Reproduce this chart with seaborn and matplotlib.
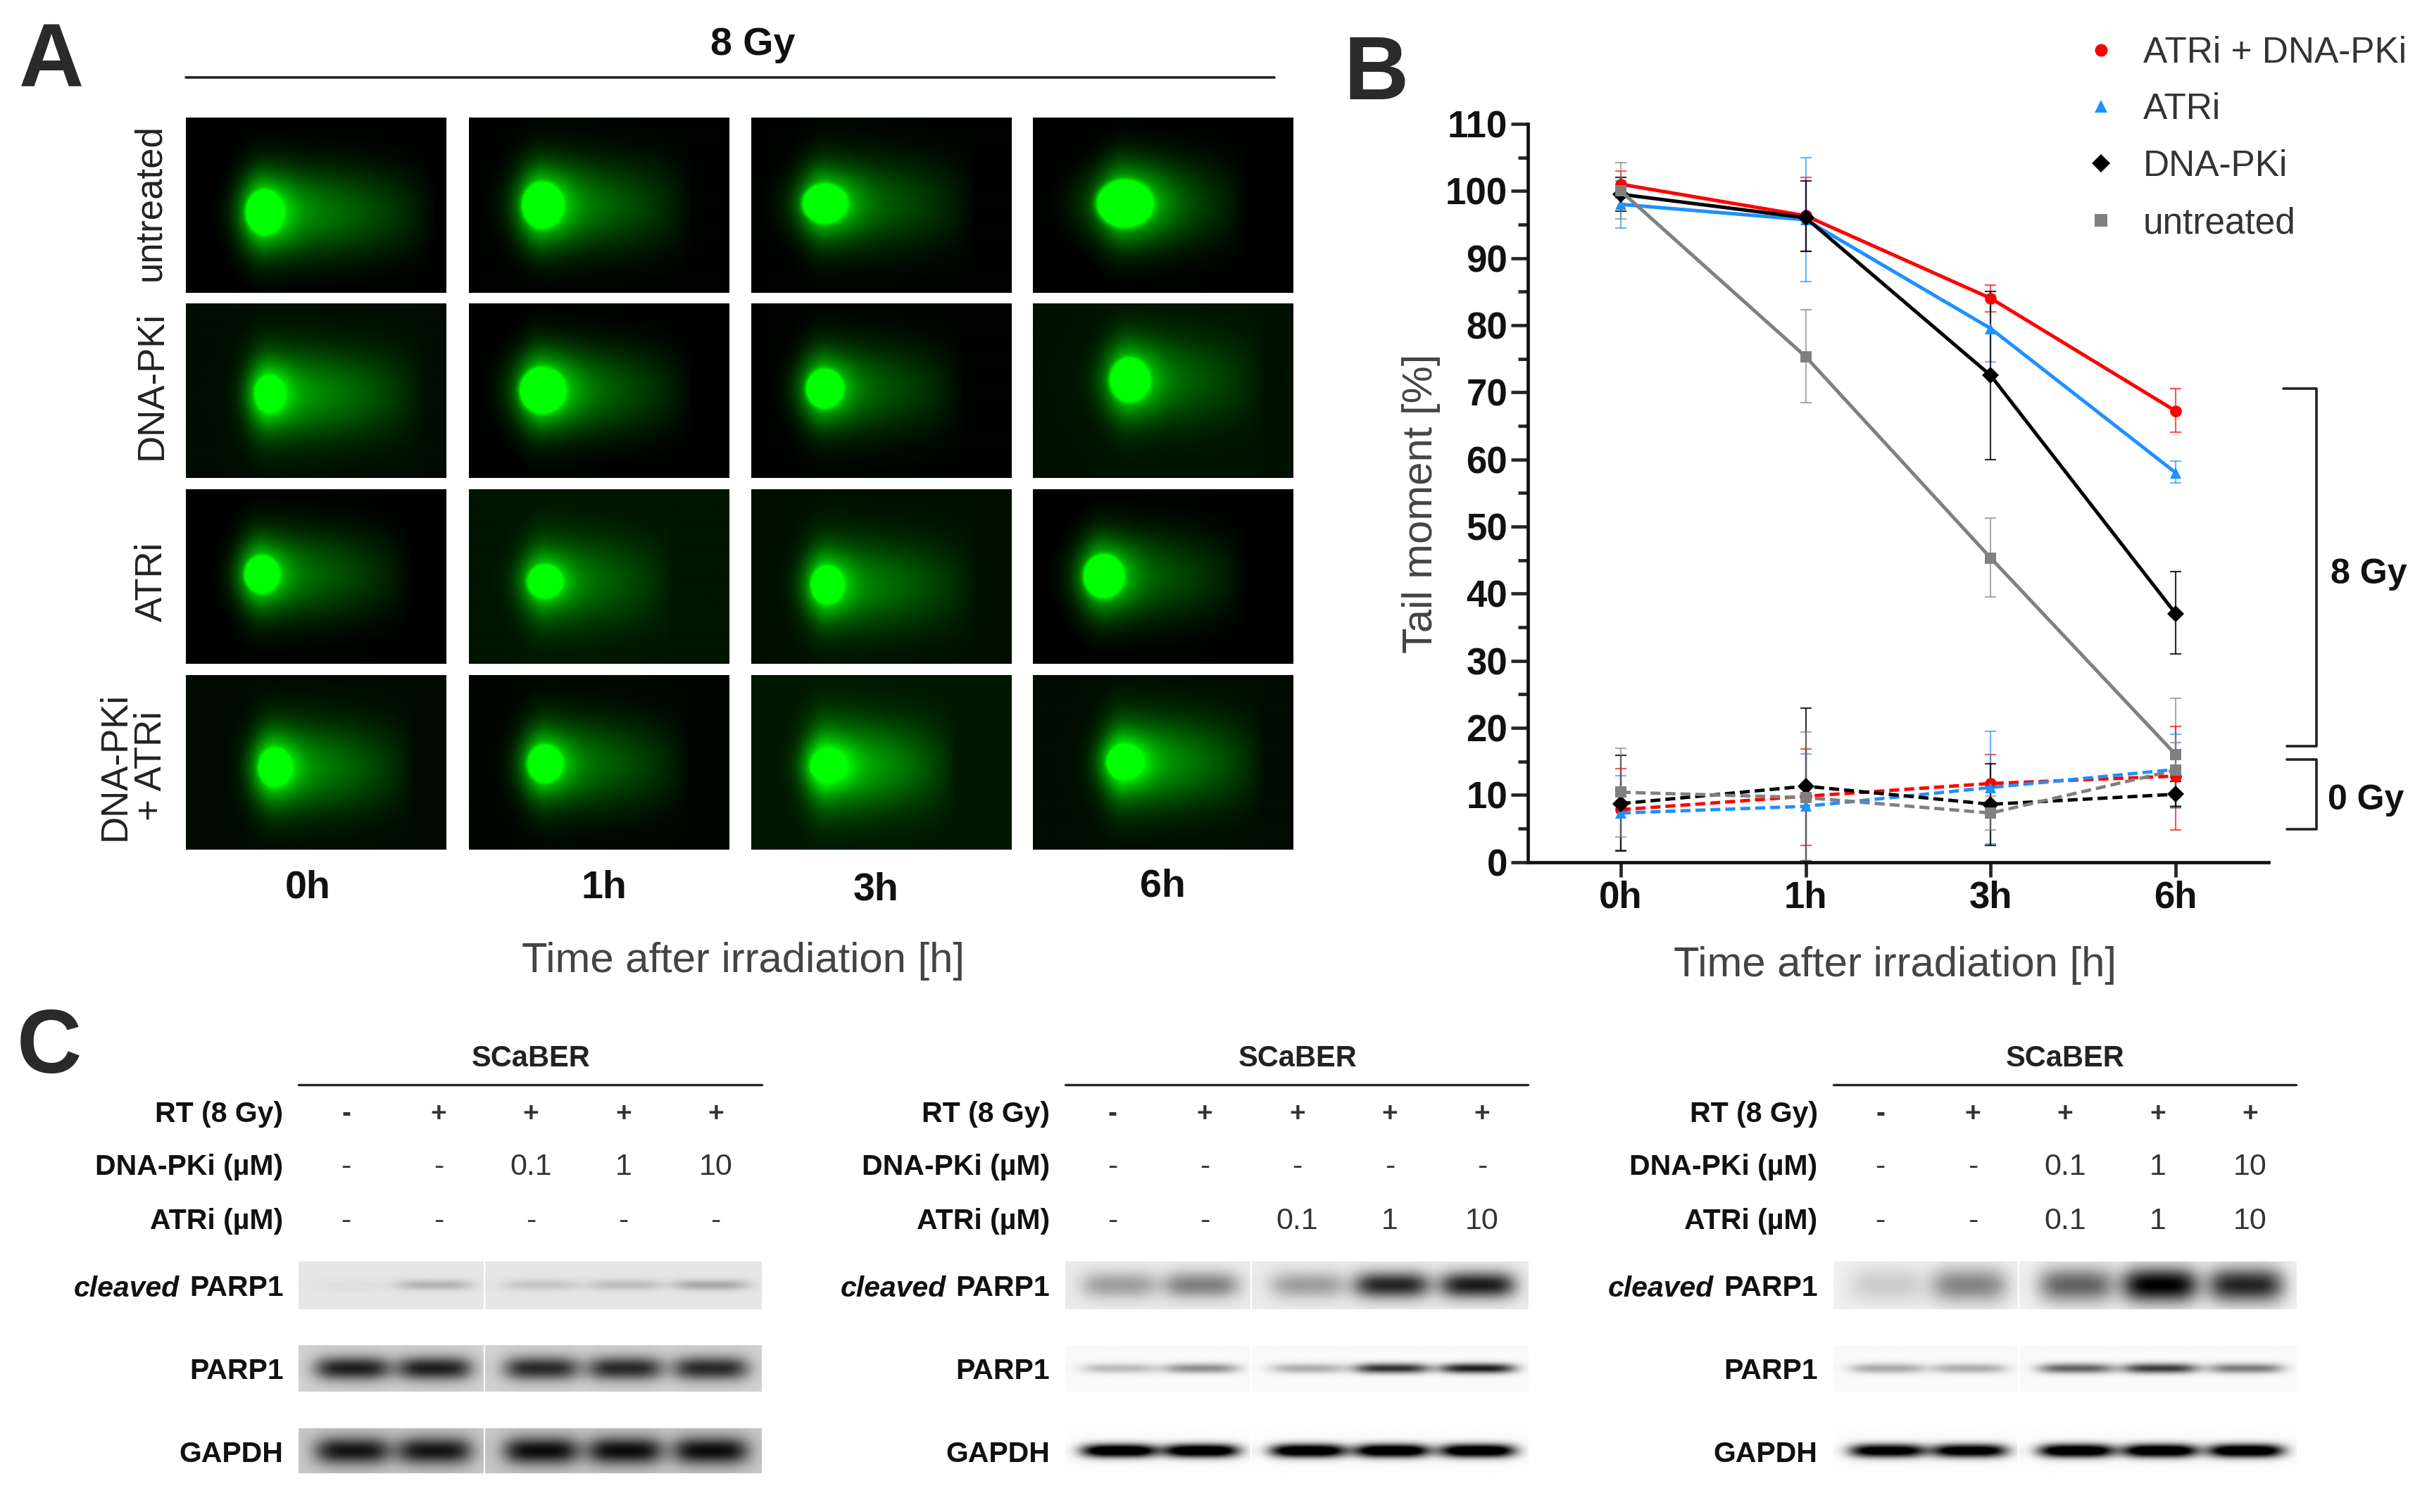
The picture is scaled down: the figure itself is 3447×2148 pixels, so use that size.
import numpy as np
import pandas as pd
import matplotlib
matplotlib.use('Agg')
import matplotlib.pyplot as plt
from matplotlib.colors import LinearSegmentedColormap
from matplotlib.lines import Line2D
import seaborn as sns

# Panel B values
times = ['0h', '1h', '3h', '6h']
groups = ['ATRi + DNA-PKi', 'ATRi', 'DNA-PKi', 'untreated']
colors = ['#ff0000', '#1e90ff', '#000000', '#808080']
marks = ['o', '^', 'D', 's']

gy8_values = [[101, 96.3, 84, 67.2], [98, 95.7, 79.5, 58], [99.5, 96, 72.5, 37], [100, 75.3, 45.3, 16]]
gy8_low = [[99, 91, 82, 64], [94.5, 86.5, 74.5, 56.5], [97, 91, 60, 31], [95.8, 68.5, 39.5, 8]]
gy8_high = [[103, 102, 86, 70.5], [101.5, 105, 84.5, 59.7], [102, 101.5, 85, 43.3], [104.2, 82.3, 51.3, 24.4]]

gy0_values = [[7.8, 9.8, 11.7, 12.8], [7.3, 8.3, 11.1, 13.8], [8.7, 11.3, 8.6, 10.1], [10.4, 9.6, 7.3, 13.7]]
gy0_low = [[1.7, 2.5, 7.4, 4.8], [1.7, 0.2, 2.7, 8.4], [1.6, 0.2, 2.5, 8.2], [3.7, 0.2, 4.8, 9.6]]
gy0_high = [[13.9, 16.8, 16, 20.2], [12.9, 16.1, 19.5, 19], [15.9, 22.9, 14.6, 12], [17, 19.4, 9.8, 17.8]]

# Panel A comets, one row per treatment, one column per time
row_labels = ['untreated', 'DNA-PKi', 'ATRi', 'DNA-PKi\n+ ATRi']
head_x = [[.30, .28, .28, .35], [.32, .28, .28, .37], [.29, .29, .29, .27], [.34, .29, .29, .35]]
head_y = [[.54, .50, .49, .49], [.52, .50, .49, .44], [.49, .53, .55, .50], [.53, .51, .52, .50]]
head_rx = [[.058, .064, .07, .09], [.045, .072, .058, .062], [.054, .054, .05, .064], [.05, .054, .05, .054]]
head_ry = [[.10, .105, .09, .11], [.08, .105, .09, .10], [.085, .075, .085, .10], [.085, .085, .065, .075]]
tail_len = [[.66, .58, .58, .48], [.60, .58, .54, .52], [.58, .50, .58, .56], [.54, .56, .50, .54]]
tail_amp = [[.66, .60, .52, .50], [.66, .58, .50, .48], [.56, .50, .56, .50], [.64, .56, .76, .70]]
back_amp = [[.0, .01, .01, .0], [.05, .0, .01, .07], [.0, .08, .06, .0], [.04, .02, .09, .05]]

# Panel C blots, darkness of each lane
rt_row = ['-', '+', '+', '+', '+']
dna_rows = [['-', '-', '0.1', '1', '10'], ['-', '-', '-', '-', '-'], ['-', '-', '0.1', '1', '10']]
atr_rows = [['-', '-', '-', '-', '-'], ['-', '-', '0.1', '1', '10'], ['-', '-', '0.1', '1', '10']]
lane_pos = [.116, .293, .525, .706, .891]

cleaved_bg = [.90, .92, .94]
parp_bg = [.82, .98, .98]
gapdh_bg = [.78, .99, .99]
cleaved_bands = [[.03, .20, .13, .16, .24], [.30, .42, .30, .78, .82], [.14, .42, .55, .95, .80]]
parp_bands = [[.70, .70, .66, .66, .66], [.25, .42, .30, .80, .88], [.32, .30, .60, .75, .50]]
gapdh_bands = [[.70, .70, .74, .74, .74], [1.3, 1.3, 1.3, 1.3, 1.3], [1.2, 1.2, 1.3, 1.3, 1.3]]
cleaved_thick = [.22, .55, .72]
parp_thick = [.52, .22, .22]
gapdh_thick = [.62, .30, .30]

sns.set_theme(style='ticks')
plt.rcParams['font.family'] = ['Liberation Sans', 'DejaVu Sans']

W, H = 1568.0, 977.0
fig = plt.figure(figsize=(34.48, 21.48), dpi=100)


def add_box(x0, y0, x1, y1):
    # box given in the coordinates of the small preview
    return fig.add_axes([x0 / W, 1 - y1 / H, (x1 - x0) / W, (y1 - y0) / H])


# page wide layer for text and lines
page = fig.add_axes([0, 0, 1, 1], zorder=5)
page.set_xlim(0, W)
page.set_ylim(H, 0)
page.axis('off')
page.patch.set_alpha(0)

dark = '#2a2a2a'
for letter, lx, ly in [('A', 33, 41), ('B', 889, 49), ('C', 32, 678)]:
    page.text(lx, ly, letter, fontsize=92, fontweight='bold', color=dark, ha='center', va='center')

# Panel A
green = LinearSegmentedColormap.from_list('comet', ['#000000', '#00ff00'])
cell_x = [120, 303, 485, 667]
cell_y = [76, 196, 316, 436]
yy, xx = np.mgrid[0:1:125j, 0:1:185j]

for r in range(4):
    for c in range(4):
        ax = add_box(cell_x[c], cell_y[r], cell_x[c] + 168, cell_y[r] + 113)
        hx, hy = head_x[r][c], head_y[r][c]
        left = np.where(xx < hx, np.exp(-((xx - hx) / .085) ** 2), 1.0)
        right = np.clip((hx + tail_len[r][c] - xx) / tail_len[r][c], 0, 1) ** 0.8
        tail = tail_amp[r][c] * left * right * np.exp(-((yy - hy) / .25) ** 2)
        dist = ((xx - hx) / head_rx[r][c]) ** 2 + ((yy - hy) / head_ry[r][c]) ** 2
        glow = .5 * np.exp(-dist / 3.2)
        head = 3 * np.exp(-dist ** 2)
        img = np.clip(back_amp[r][c] + tail + glow + head, 0, 1)
        ax.imshow(img, cmap=green, vmin=0, vmax=1, aspect='auto', interpolation='bilinear')
        ax.axis('off')

page.plot([120, 823], [50, 50], color='#222222', lw=2.6)
page.text(486, 29, '8 Gy', fontsize=40, fontweight='bold', color='#111111', ha='center', va='center')
for label, ly, lx in zip(row_labels, [131, 249, 376, 495], [97, 98, 98, 86]):
    page.text(lx, ly, label, fontsize=38, color='#222222', rotation=90, ha='center', va='center',
              multialignment='center', linespacing=1.05)
for label, lx, ly in zip(times, [199, 390, 566, 751], [574, 574, 575, 573]):
    page.text(lx, ly, label, fontsize=40, fontweight='bold', color='#111111', ha='center', va='center')
page.text(480, 621, 'Time after irradiation [h]', fontsize=43, color='#444444', ha='center', va='center')

# Panel B
ax = add_box(987, 80, 1465, 557)
rows_8 = []
rows_0 = []
for g in range(4):
    for t in range(4):
        rows_8.append({'time': times[t], 'group': groups[g], 'value': gy8_values[g][t]})
        rows_0.append({'time': times[t], 'group': groups[g], 'value': gy0_values[g][t]})
df_8 = pd.DataFrame(rows_8)
df_0 = pd.DataFrame(rows_0)

palette = dict(zip(groups, colors))
markers = dict(zip(groups, marks))
for low, high, values in [(gy8_low, gy8_high, gy8_values), (gy0_low, gy0_high, gy0_values)]:
    for g in range(4):
        yerr = [np.array(values[g]) - np.array(low[g]), np.array(high[g]) - np.array(values[g])]
        ax.errorbar(range(4), values[g], yerr=yerr, fmt='none', ecolor=colors[g], elinewidth=1.6,
                    capsize=6, capthick=1.6, alpha=0.65 if g != 2 else 0.8, clip_on=False)

sns.lineplot(data=df_0, x='time', y='value', hue='group', style='group', palette=palette, markers=markers,
             dashes={g: (3, 1.5) for g in groups}, lw=3.4, markersize=12, markeredgewidth=0, sort=False,
             errorbar=None, legend=False, ax=ax, clip_on=False)
sns.lineplot(data=df_8, x='time', y='value', hue='group', style='group', palette=palette, markers=markers,
             dashes=False, lw=3.6, markersize=12, markeredgewidth=0, sort=False,
             errorbar=None, legend=False, ax=ax, clip_on=False)

ax.set_xlim(-0.5, 3.5)
ax.set_ylim(0, 110)
ax.set_yticks(np.arange(0, 111, 10))
ax.set_yticks(np.arange(5, 110, 10), minor=True)
ax.set_xlabel('')
ax.set_ylabel('Tail moment [%]', fontsize=43, color='#444444')
ax.yaxis.set_label_coords(-0.118, 0.486)
ax.tick_params(axis='y', which='major', length=17, width=3.4, labelsize=38, labelcolor='#111111', pad=4)
ax.tick_params(axis='y', which='minor', length=10, width=3.4)
ax.tick_params(axis='x', which='major', length=15, width=3.4, labelsize=38, labelcolor='#111111', pad=4)
for lab in ax.get_xticklabels() + ax.get_yticklabels():
    lab.set_fontweight('bold')
sns.despine(ax=ax)
for side in ['left', 'bottom']:
    ax.spines[side].set_linewidth(3.4)
    ax.spines[side].set_color('#111111')

page.text(1224, 624, 'Time after irradiation [h]', fontsize=43, color='#444444', ha='center', va='center')

handles = [Line2D([], [], color=c, marker=m, linestyle='none', markersize=13, markeredgewidth=0)
           for c, m in zip(colors, marks)]
fig.legend(handles, groups, loc='upper left', bbox_to_anchor=(1345.5 / W, 1 - 23 / H), frameon=False, fontsize=37,
           labelcolor='#333333', borderpad=0, borderaxespad=0, handlelength=1.0, handletextpad=0.65, labelspacing=0.62)

page.plot([1475, 1496, 1496, 1477], [251, 251, 482, 482], color='#222222', lw=2.6)
page.plot([1477, 1496, 1496, 1477], [491, 491, 536, 536], color='#222222', lw=2.6)
page.text(1530, 371, '8 Gy', fontsize=36, fontweight='bold', color='#111111', ha='center', va='center')
page.text(1528, 517, '0 Gy', fontsize=36, fontweight='bold', color='#111111', ha='center', va='center')


# Panel C
def blot(bg, bands, thick):
    by, bx = np.mgrid[-1:1:70j, 0:1:320j]
    img = np.full(by.shape, float(bg))
    for pos, amp in zip(lane_pos, bands):
        img -= amp * np.exp(-((bx - pos) / .082) ** 4) * np.exp(-(by / thick) ** 2)
    return np.clip(img, 0, 1)


group_x = [193, 688, 1184]
group_w = 299
strip_y = [(815, 846), (869, 899), (923, 952)]
strip_names = ['PARP1', 'PARP1', 'GAPDH']
for i, gx in enumerate(group_x):
    strips = [blot(cleaved_bg[i], cleaved_bands[i], cleaved_thick[i]),
              blot(parp_bg[i], parp_bands[i], parp_thick[i]),
              blot(gapdh_bg[i], gapdh_bands[i], gapdh_thick[i])]
    for img, (y0, y1), name in zip(strips, strip_y, strip_names):
        ax_blot = add_box(gx, y0, gx + group_w, y1)
        ax_blot.imshow(img, cmap='gray', vmin=0, vmax=1, aspect='auto', interpolation='bilinear')
        ax_blot.axis('off')
        page.plot([gx + 120, gx + 120], [y0, y1], color='white', lw=1.6)
        page.text(gx - 10, (y0 + y1) / 2 + 2, name, fontsize=29.5, fontweight='bold', color='#111111', ha='right', va='center')
    page.text(gx - 77, 833, 'cleaved', fontsize=29.5, fontweight='bold', fontstyle='italic', color='#111111', ha='right', va='center')

    page.plot([gx, gx + group_w], [701, 701], color='#222222', lw=2.4)
    page.text(gx + 150, 684, 'SCaBER', fontsize=30, fontweight='bold', color='#222222', ha='center', va='center')
    page.text(gx - 10, 720, 'RT (8 Gy)', fontsize=29.5, fontweight='bold', color='#111111', ha='right', va='center')
    page.text(gx - 10, 754, 'DNA-PKi (µM)', fontsize=29.5, fontweight='bold', color='#111111', ha='right', va='center')
    page.text(gx - 10, 789, 'ATRi (µM)', fontsize=29.5, fontweight='bold', color='#111111', ha='right', va='center')
    for j in range(5):
        lx = gx + 30.5 + 59.7 * j
        page.text(lx, 720, rt_row[j], fontsize=28, fontweight='bold', color='#333333', ha='center', va='center')
        page.text(lx, 754, dna_rows[i][j], fontsize=31, color='#333333', ha='center', va='center')
        page.text(lx, 789, atr_rows[i][j], fontsize=31, color='#333333', ha='center', va='center')

fig.savefig('out.png', dpi=100)
